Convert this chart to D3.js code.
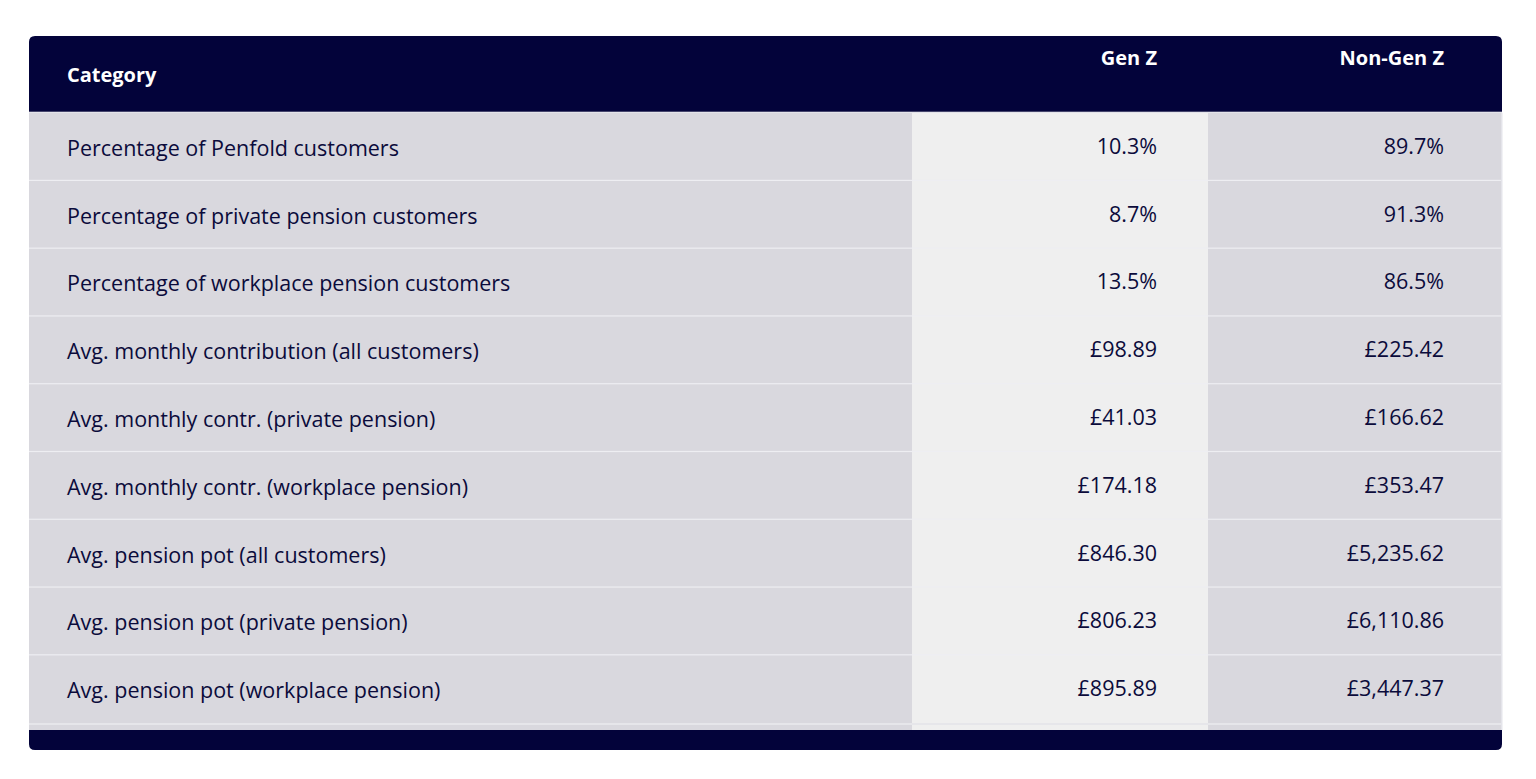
<!DOCTYPE html><html><head><meta charset="utf-8"><script src="https://cdn.jsdelivr.net/npm/d3@7"></script>
<style>body{margin:0;background:#fff}</style></head><body><svg id="c" width="1536" height="779"></svg><script>
const categories=["Percentage of Penfold customers","Percentage of private pension customers","Percentage of workplace pension customers","Avg. monthly contribution (all customers)","Avg. monthly contr. (private pension)","Avg. monthly contr. (workplace pension)","Avg. pension pot (all customers)","Avg. pension pot (private pension)","Avg. pension pot (workplace pension)"];
const genZ=["10.3%","8.7%","13.5%","£98.89","£41.03","£174.18","£846.30","£806.23","£895.89"];
const nonGenZ=["89.7%","91.3%","86.5%","£225.42","£166.62","£353.47","£5,235.62","£6,110.86","£3,447.37"];
const headers=["Category","Gen Z","Non-Gen Z"];
(function(){
const svg=d3.select("#c");
const navy="#03033a",txt="#0b0b3b",font="'Open Sans', sans-serif";
const L=29,R=1502,T0=36,hdrH=76,rowsTop=113;
const y=d3.scaleBand().domain(d3.range(categories.length)).range([rowsTop,723]);
const cols=[{x0:L,x1:912,bg:"#d9d8de"},{x0:912,x1:1208,bg:"#efefef"},{x0:1208,x1:R,bg:"#d9d8de"}];
svg.append("path").attr("d",`M${L},${T0+hdrH}V${T0+6}Q${L},${T0} ${L+6},${T0}H${R-6}Q${R},${T0} ${R},${T0+6}V${T0+hdrH}Z`).attr("fill",navy);
svg.append("line").attr("x1",L).attr("x2",R).attr("y1",T0+hdrH).attr("y2",T0+hdrH).attr("stroke","#8a8aa0").attr("stroke-width",1);
cols.forEach(c=>svg.append("rect").attr("x",c.x0).attr("y",rowsTop).attr("width",c.x1-c.x0).attr("height",730-rowsTop).attr("fill",c.bg));
svg.append("rect").attr("x",L).attr("y",rowsTop-1).attr("width",R-L).attr("height",1).attr("fill","#e4e4ea");
categories.forEach((d,i)=>{
 const yy=y(i);
 if(i>0) svg.append("rect").attr("x",L).attr("y",yy-1).attr("width",R-L).attr("height",1.2).attr("fill","#eeeef2");
 svg.append("text").attr("x",67).attr("y",yy+y.bandwidth()/2+9).text(d).attr("font-family",font).attr("font-size",21.5).attr("fill",txt);
 svg.append("text").attr("x",1157).attr("y",yy+y.bandwidth()/2+7).attr("text-anchor","end").text(genZ[i]).attr("font-family",font).attr("font-size",21.5).attr("fill",txt);
 svg.append("text").attr("x",1444).attr("y",yy+y.bandwidth()/2+7).attr("text-anchor","end").text(nonGenZ[i]).attr("font-family",font).attr("font-size",21.5).attr("fill",txt);
});
svg.append("rect").attr("x",L).attr("y",723).attr("width",R-L).attr("height",2).attr("fill","#e6e6ea");
svg.append("rect").attr("x",R-1).attr("y",rowsTop).attr("width",1.5).attr("height",617).attr("fill","#e4e4ea");
svg.append("path").attr("d",`M${L},730H${R}V744Q${R},750 ${R-6},750H${L+6}Q${L},750 ${L},744Z`).attr("fill",navy);
svg.append("text").attr("x",67).attr("y",82).text(headers[0]).attr("font-family",font).attr("font-weight",700).attr("font-size",20).attr("fill","#fff");
svg.append("text").attr("x",1157).attr("y",65).attr("text-anchor","end").text(headers[1]).attr("font-family",font).attr("font-weight",700).attr("font-size",20).attr("fill","#fff");
svg.append("text").attr("x",1444).attr("y",65).attr("text-anchor","end").text(headers[2]).attr("font-family",font).attr("font-weight",700).attr("font-size",20).attr("fill","#fff");
})();
</script></body></html>
